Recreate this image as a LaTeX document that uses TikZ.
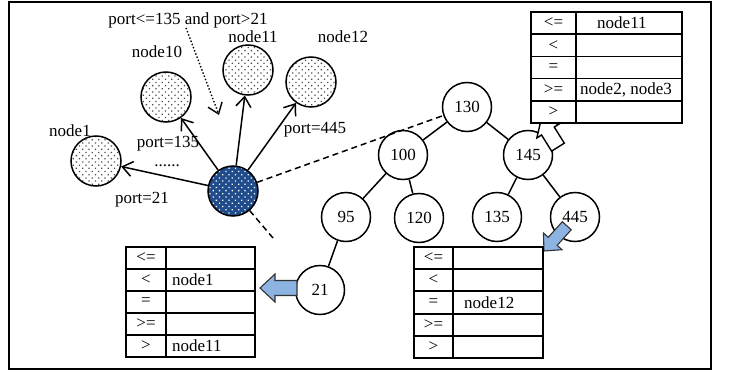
\documentclass[tikz,border=0pt]{standalone}
\usepackage{fontspec}
\setmainfont{Liberation Serif}
\usetikzlibrary{arrows.meta,patterns.meta}
\definecolor{dotblue}{RGB}{33,76,140}
\definecolor{arrowblue}{RGB}{141,179,226}
\newcommand{\blockarr}[7]{\begin{scope}[shift={#2}, rotate=#3]\draw[#1] (0,0) -- (-#5,#6) -- (-#5,#7) -- (-#4,#7) -- (-#4,-#7) -- (-#5,-#7) -- (-#5,-#6) -- cycle;\end{scope}}
\tikzset{
  every node/.style={font=\fontsize{17}{20}\selectfont, inner sep=0pt},
  treenode/.style={circle, draw, line width=1.5pt, fill=white, minimum size=49pt, inner sep=0pt},
  hostnode/.style={circle, draw, line width=1.5pt, minimum size=50pt, inner sep=0pt,
    pattern={Dots[distance=4.5pt, radius=0.9pt, angle=45]}, pattern color=black!70},
  centernode/.style={circle, draw, line width=1.5pt, minimum size=50pt, inner sep=0pt,
    preaction={fill=dotblue}, pattern={Dots[distance=4.5pt, radius=0.9pt, angle=45]}, pattern color=white},
  edge/.style={line width=1.5pt},
  portarrow/.style={line width=1.5pt, -{Straight Barb[length=10pt, width=15pt]}},
  dotarrow/.style={line width=1.4pt, dash pattern=on 1.4pt off 2pt, -{Straight Barb[length=10pt, width=15pt]}},
  dashline/.style={line width=1.5pt, dash pattern=on 6pt off 4pt},
  tablebox/.style={line width=1.6pt, fill=white},
  tableline/.style={line width=1.6pt},
  bluearrow/.style={draw=black!80, line width=1.1pt, fill=arrowblue},
  whitearrow/.style={draw=black, line width=1.4pt, fill=white},
}
\begin{document}
\begin{tikzpicture}[x=1pt, y=-1pt]
\useasboundingbox (0,0) rectangle (729,372);
\draw[line width=2pt] (9,2) rectangle (711,369);

% hosts
\node[centernode] (c) at (233,191) {};
\node[hostnode] (h1) at (96,161) {};
\node[hostnode] (h10) at (166,97) {};
\node[hostnode] (h11) at (248,70) {};
\node[hostnode] (h12) at (311,82) {};
\node (l1) at (70,131) {node1};
\node (l10) at (157,52) {node10};
\node (l11) at (253,37) {node11};
\node (l12) at (343,37) {node12};

\draw[portarrow] (c) -- (h1);
\draw[portarrow] (c) -- (h10);
\draw[portarrow] (c) -- (h11);
\draw[portarrow] (c) -- (h12);

\node (cond) at (188,20) {port<=135 and port>21};
\coordinate (condend) at (219,115);
\draw[dotarrow] ([xshift=-2pt]cond.south) -- (condend);

\node (p135) at (168,144) {port=135};
\node[anchor=base] (dots) at (167,166) {......};
\node (p21) at (142,200) {port=21};
\node (p445) at (315,130) {port=445};

% tree
\node[treenode] (n130) at (467,107) {130};
\node[treenode] (n100) at (403,155) {100};
\node[treenode] (n145) at (528,155) {145};
\node[treenode] (n95) at (346,217) {95};
\node[treenode] (n120) at (419,218) {120};
\node[treenode] (n135) at (497,217) {135};
\node[treenode] (n445) at (575,217) {445};
\node[treenode] (n21) at (320,290) {21};
\draw[edge] (n130) -- (n100);
\draw[edge] (n130) -- (n145);
\draw[edge] (n100) -- (n95);
\draw[edge] (n100) -- (n120);
\draw[edge] (n145) -- (n135);
\draw[edge] (n145) -- (n445);
\draw[edge] (n95) -- (n21);

% dashed zoom lines
\draw[dashline] (c) -- (n130);
\coordinate (zoomend) at (273,238);
\draw[dashline] (c) -- (zoomend);

% block arrows
\coordinate (tipL) at (260,288);
\coordinate (tipB) at (544,251);
\coordinate (tipT) at (541,120);
\blockarr{bluearrow}{(tipL)}{180}{37}{15}{14}{7.5}
\blockarr{bluearrow}{(tipB)}{228}{34}{13}{12.5}{6}
\blockarr{whitearrow}{(tipT)}{122}{32}{13}{13}{7.5}

% left table
\draw[tablebox] (126,247) rectangle (255,357);
\foreach \yy in {269,291,313,335} \draw[tableline] (126,\yy) -- (255,\yy);
\draw[tableline] (166,247) -- (166,357);
\node (la1) at (146,258) {<=};
\node (la2) at (146,280) {<};
\node (la3) at (146,302) {=};
\node (la4) at (146,324) {>=};
\node (la5) at (146,346) {>};
\node[anchor=west] (lb2) at (172,280) {node1};
\node[anchor=west] (lb5) at (172,346) {node11};

% bottom table
\draw[tablebox] (414,247) rectangle (543,358);
\foreach \yy in {269,291,314,336} \draw[tableline] (414,\yy) -- (543,\yy);
\draw[tableline] (453,247) -- (453,358);
\node (ba1) at (433.5,258) {<=};
\node (ba2) at (433.5,280) {<};
\node (ba3) at (433.5,302.5) {=};
\node (ba4) at (433.5,325) {>=};
\node (ba5) at (433.5,347) {>};
\node[anchor=west] (bb3) at (464,302.5) {node12};

% top table
\draw[tablebox] (531,12) rectangle (682,123);
\foreach \yy in {34.2,56.4,78.6,100.8} \draw[tableline] (531,\yy) -- (682,\yy);
\draw[tableline] (576,12) -- (576,123);
\node (ta1) at (553.5,23.1) {<=};
\node (ta2) at (553.5,45.3) {<};
\node (ta3) at (553.5,67.5) {=};
\node (ta4) at (553.5,89.7) {>=};
\node (ta5) at (553.5,111.9) {>};
\node[anchor=west] (tb1) at (597,23.1) {node11};
\node[anchor=west] (tb4) at (580,89.7) {node2, node3};
\end{tikzpicture}
\end{document}
